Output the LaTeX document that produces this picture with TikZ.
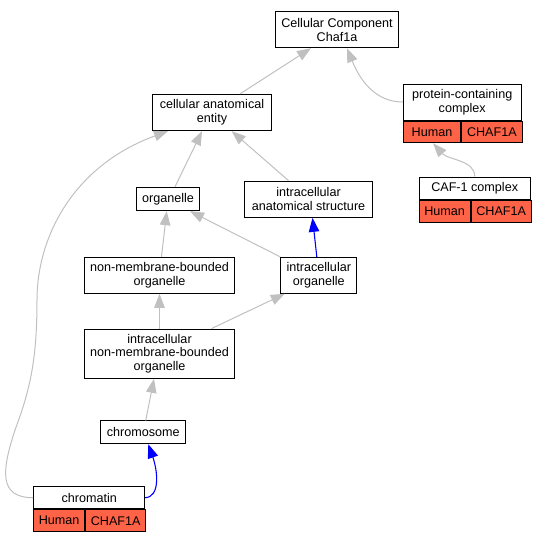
\documentclass[tikz,border=0pt]{standalone}
\usepackage{fontspec}
\setmainfont{Liberation Sans}
\usepackage{xcolor}
\usetikzlibrary{arrows.meta}
\definecolor{edgegray}{RGB}{192,192,192}
\definecolor{tomatored}{RGB}{255,99,71}

\begin{document}
\begin{tikzpicture}[x=1pt, y=-1pt,
		every node/.style={font=\fontsize{12.6}{13.7}\selectfont},
		box/.style={draw=black, line width=1pt, fill=white, inner sep=0pt, align=center},
		cell/.style={box, fill=tomatored, minimum height=21.7pt, anchor=north west},
		edge/.style={draw=edgegray, line width=1pt, -{Triangle[length=14pt, width=10.5pt]}},
		isa/.style={edge, draw=blue, line width=1.1pt}]
				\useasboundingbox (0, 0) rectangle (545, 541);
				\node[box, minimum width=123pt, minimum height=36pt] (cc) at (337, 29.7) {Cellular Component\\Chaf1a};
				\node[box, minimum width=119.4pt, minimum height=36.3pt] (cae) at (212, 112.5) {cellular anatomical\\entity};
				\node[box, minimum width=117.7pt, minimum height=36pt] (pcc) at (462.2, 102) {protein-containing\\complex};
				\node[cell, minimum width=57.4pt] (pcchuman) at (pcc.south west) {Human};
				\node[cell, minimum width=60.3pt] (pccgene) at (pcchuman.north east) {CHAF1A};
				\node[box, minimum width=111.3pt, minimum height=22.3pt] (caf) at (474.7, 188.2) {CAF-1 complex};
				\node[cell, minimum width=51pt] (cafhuman) at (caf.south west) {Human};
				\node[cell, minimum width=60.3pt] (cafgene) at (cafhuman.north east) {CHAF1A};
				\node[box, minimum width=62.6pt, minimum height=23.4pt] (org) at (168, 199) {organelle};
				\node[box, minimum width=127.6pt, minimum height=36.3pt] (ias) at (308.5, 199.2) {intracellular\\anatomical structure};
				\node[box, minimum width=149.6pt, minimum height=36pt] (nmb) at (159.5, 275.3) {non-membrane-bounded\\organelle};
				\node[box, minimum width=76.3pt, minimum height=36pt] (io) at (318.8, 275.3) {intracellular\\organelle};
				\node[box, minimum width=149.6pt, minimum height=49.3pt] (inmb) at (159.5, 353.7) {intracellular\\non-membrane-bounded\\organelle};
				\node[box, minimum width=85.3pt, minimum height=22.7pt] (chr) at (143.3, 432.3) {chromosome};
				\node[box, minimum width=111pt, minimum height=22pt] (chromatin) at (89.2, 497.7) {chromatin};
				\node[cell, minimum width=51pt, minimum height=22pt] (chromatinhuman) at (chromatin.south west) {Human};
				\node[cell, minimum width=60pt, minimum height=22pt] (chromatingene) at (chromatinhuman.north east) {CHAF1A};

				\draw[edge] ([xshift=28pt]cae.north) -- ([xshift=-26pt]cc.south);
				\draw[edge] (pcc.west) .. controls (375, 102) and (360, 80) .. ([xshift=10pt]cc.south);
				\draw[edge] (caf.north) .. controls (475, 160) and (448, 160) .. ([xshift=1pt]pcchuman.south);
				\draw[edge] ([xshift=7pt]org.north) -- ([xshift=-10pt]cae.south);
				\draw[edge] ([xshift=-20pt]ias.north) -- ([xshift=19.7pt]cae.south);
				\draw[edge] (chromatin.west) .. controls (-2, 497.7) and (2, 470) .. (15, 430)
					.. controls (30, 390) and (37, 360) .. (37, 300)
					.. controls (37, 235) and (75, 165) .. ([xshift=-44pt]cae.south);
				\draw[edge] ([xshift=2pt]nmb.north) -- ([xshift=-1.3pt]org.south);
				\draw[edge] (io.north west) -- ([xshift=22pt]org.south);
				\draw[isa] ([xshift=-2pt]io.north) -- ([xshift=4pt]ias.south);
				\draw[edge] (inmb.north) -- (nmb.south);
				\draw[edge] ([xshift=52pt]inmb.north) -- ([xshift=-34pt]io.south);
				\draw[edge] ([xshift=2.4pt]chr.north) -- ([xshift=-5.5pt]inmb.south);
				\draw[isa] (chromatin.east) .. controls (160, 497) and (158, 472) .. ([xshift=5pt]chr.south);
			\end{tikzpicture}
\end{document}
